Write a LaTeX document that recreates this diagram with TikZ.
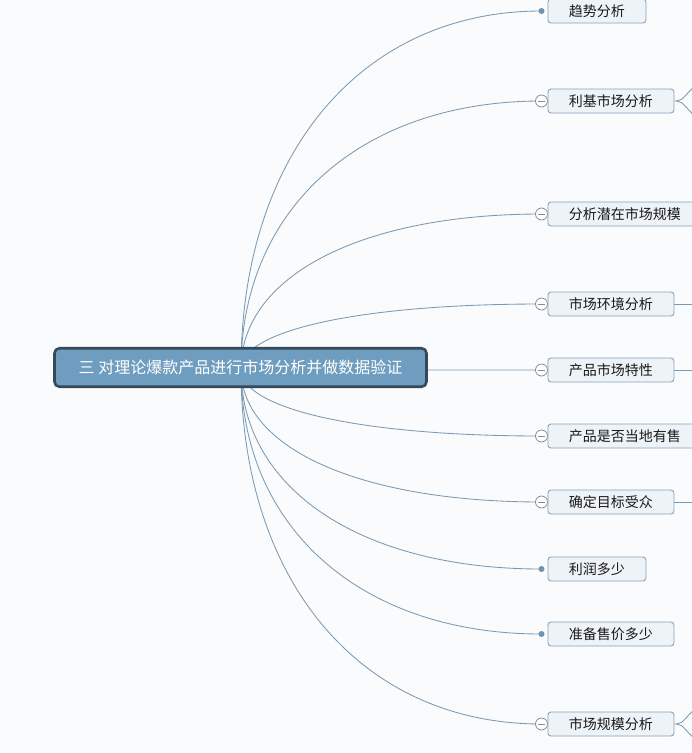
\documentclass[tikz,border=0pt]{standalone}
\usepackage{fontspec}
\setmainfont{Noto Sans CJK SC}
\usetikzlibrary{calc}
\definecolor{bg}{HTML}{FAFBFC}
\definecolor{connc}{HTML}{7A9AB3}
\definecolor{boxfill}{HTML}{EEF3F8}
\definecolor{boxline}{HTML}{87A3BA}
\definecolor{rootfill}{HTML}{6F9DBF}
\definecolor{rootline}{HTML}{34495C}
\definecolor{dotc}{HTML}{6F93B3}
\definecolor{circline}{HTML}{8C8C8C}
\begin{document}
\begin{tikzpicture}[x=1pt,y=-1pt,
  topic/.style={draw=boxline, fill=boxfill, line width=0.9pt, rounded corners=3pt, anchor=west,
    minimum height=24pt, inner xsep=21pt, inner ysep=0pt, font=\fontsize{14}{16}\selectfont, text=black!90},
  rootbox/.style={draw=rootline, fill=rootfill, line width=2.6pt, rounded corners=5pt,
    minimum width=372pt, minimum height=38.5pt, inner sep=0pt, text=white, font=\fontsize{16}{18}\selectfont},
  conn/.style={draw=connc, line width=0.85pt},
  collapse/.style={circle, draw=circline, fill=white, line width=0.8pt, minimum size=12pt, inner sep=0pt,
    path picture={\draw[circline, line width=0.8pt] ([xshift=-3.8pt]path picture bounding box.center) -- ([xshift=3.8pt]path picture bounding box.center);}},
  dotm/.style={circle, fill=dotc, minimum size=6pt, inner sep=0pt}]
\useasboundingbox (0,0) rectangle (692,753);
\clip (0,0) rectangle (692,753);
\fill[bg] (0,0) rectangle (692,753);
% anchor points of the children
\foreach \i/\y in {1/11,2/101,3/214,4/304,5/370,6/436,7/502,8/569,9/634,10/724}
  \coordinate (c\i) at (541.5,\y);
\coordinate (o) at (241,369);
% connectors from the root
\foreach \i in {1,...,10}
  \draw[conn] (o) .. controls ($(o)!0.6!(o|-c\i)$) and ($(c\i)!0.6!(o|-c\i)$) .. (c\i);
% root
\node[rootbox] (root) at (240.5,367.5) {三 对理论爆款产品进行市场分析并做数据验证};
% markers
\node[dotm] (m1) at (c1) {};
\node[collapse] (m2) at (c2) {};
\node[collapse] (m3) at (c3) {};
\node[collapse] (m4) at (c4) {};
\node[collapse] (m5) at (c5) {};
\node[collapse] (m6) at (c6) {};
\node[collapse] (m7) at (c7) {};
\node[dotm] (m8) at (c8) {};
\node[dotm] (m9) at (c9) {};
\node[collapse] (m10) at (c10) {};
% topics
\node[topic] (t1) at (547.5,11) {趋势分析};
\node[topic] (t2) at (547.5,101) {利基市场分析};
\node[topic] (t3) at (547.5,214) {分析潜在市场规模};
\node[topic] (t4) at (547.5,304) {市场环境分析};
\node[topic] (t5) at (547.5,370) {产品市场特性};
\node[topic] (t6) at (547.5,436) {产品是否当地有售};
\node[topic] (t7) at (547.5,502) {确定目标受众};
\node[topic] (t8) at (547.5,569) {利润多少};
\node[topic] (t9) at (547.5,634) {准备售价多少};
\node[topic] (t10) at (547.5,724) {市场规模分析};
% stubs towards off-picture children
\coordinate (e4) at (700,304);
\coordinate (e5) at (700,370);
\coordinate (e7) at (700,502);
\draw[conn] (t4.east) -- (e4);
\draw[conn] (t5.east) -- (e5);
\draw[conn] (t7.east) -- (e7);
\coordinate (f2) at (676.5,101);
\coordinate (u2) at (700,82);
\coordinate (d2) at (700,120);
\draw[conn] (t2.east) -- (f2) .. controls (684,101) and (686,92) .. (u2);
\draw[conn] (f2) .. controls (684,101) and (686,110) .. (d2);
\coordinate (f10) at (676.5,724);
\coordinate (u10) at (700,705);
\coordinate (d10) at (700,743);
\draw[conn] (t10.east) -- (f10) .. controls (684,724) and (686,715) .. (u10);
\draw[conn] (f10) .. controls (684,724) and (686,733) .. (d10);
\end{tikzpicture}
\end{document}
